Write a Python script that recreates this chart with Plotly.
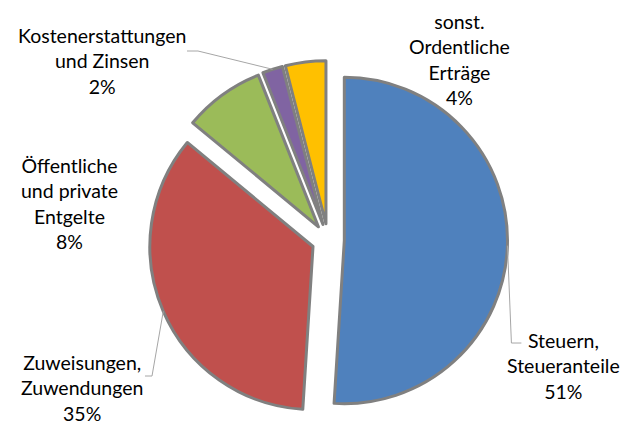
import math
import plotly.graph_objects as go

# Ertragsarten (Anteile in %)
labels = ['Steuern,<br>Steueranteile', 'Zuweisungen,<br>Zuwendungen', 'Öffentliche<br>und private<br>Entgelte',
          'Kostenerstattungen<br>und Zinsen', 'sonst.<br>Ordentliche<br>Erträge']
values = [51, 35, 8, 2, 4]
colors = ['#4F81BD', '#C0504D', '#9BBB59', '#8064A2', '#FFC000']

W, H = 623, 424
pull = 0.1
# pie box in pixels
cx, cy, box = 328, 240, 359
r = box / 2 / (1 + pull)

fig = go.Figure(go.Pie(
    labels=labels, values=values, sort=False, direction='clockwise', rotation=0,
    marker=dict(colors=colors, line=dict(color='#808080', width=3)),
    pull=[pull] * len(values), textinfo='none', showlegend=False, hoverinfo='skip',
    domain=dict(x=[(cx - box / 2) / W, (cx + box / 2) / W], y=[1 - (cy + box / 2) / H, 1 - (cy - box / 2) / H])))

def px(x, y):
    return x / W, 1 - y / H

# point on the outer edge of an exploded slice (from the data)
total = sum(values)
def edge_point(i):
    start = sum(values[:i]) / total * 360
    mid = math.radians(start + values[i] / total * 180)
    d = r * (1 + pull)
    return cx + d * math.sin(mid), cy - d * math.cos(mid)

texts = [f'{l}<br>{round(v / total * 100)}%' for l, v in zip(labels, values)]
label_pos = [(563, 366), (82, 388), (69, 203), (102, 61), (459, 60)]
for t, (x, y) in zip(texts, label_pos):
    ax, ay = px(x, y)
    fig.add_annotation(x=ax, y=ay, xref='paper', yref='paper', text=t, showarrow=False,
                       xanchor='center', yanchor='middle', align='center',
                       font=dict(family='Lato', size=19.5, color='black'))

# leader lines: slice edge -> elbow -> label
elbows = {0: [(512, 343), (523, 343)], 1: [(152, 376), (145, 376)], 3: [(198, 51), (187, 51)]}
for i, pts in elbows.items():
    path = [edge_point(i)] + pts
    if i == 0:
        path[1] = (path[0][0] + 4, path[1][1])
        path[2] = (path[1][0] + 10, path[1][1])
    p = [px(x, y) for x, y in path]
    d = 'M ' + ' L '.join(f'{a:.4f},{b:.4f}' for a, b in p)
    fig.add_shape(type='path', path=d, xref='paper', yref='paper', line=dict(color='#A6A6A6', width=1))

fig.update_layout(width=W, height=H, margin=dict(l=0, r=0, t=0, b=0),
                  paper_bgcolor='white', plot_bgcolor='white')
fig.write_html('out.html', config={'displayModeBar': False},
               post_script="document.body.style.margin='0';")
